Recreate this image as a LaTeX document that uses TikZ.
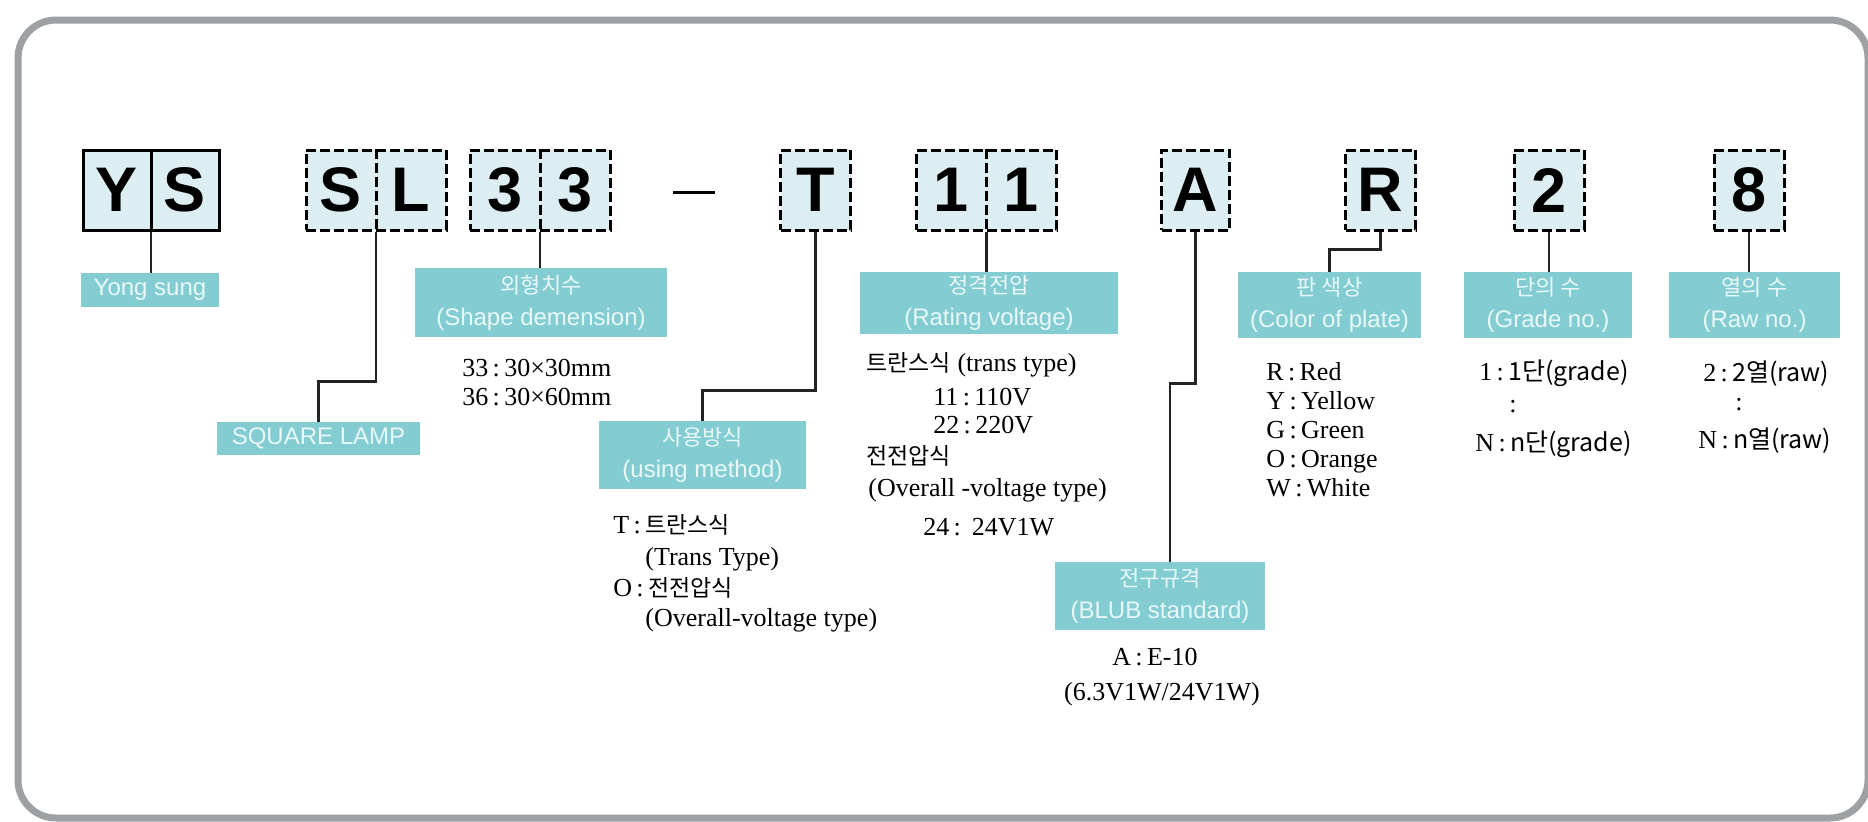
\documentclass[tikz,border=0pt]{standalone}
\usepackage{fontspec}
\setmainfont{Liberation Serif}
\newfontfamily\lsans{Liberation Sans}
\newfontfamily\kr{Noto Sans CJK KR}
\newcommand\krs{\kr\fontsize{11.5}{11.5}\selectfont}
\newcommand\krl{\kr\fontsize{11}{11}\selectfont}
\newcommand\krg{\kr\fontsize{12.5}{12.5}\selectfont}
\definecolor{cellfill}{RGB}{221,238,242}
\definecolor{labfill}{RGB}{131,205,210}
\definecolor{labtext}{RGB}{232,247,248}
\definecolor{framegray}{RGB}{158,161,164}
\definecolor{wirecol}{RGB}{35,35,35}
\begin{document}
\begin{tikzpicture}[x=0.5pt,y=-0.5pt,
  big/.style={font=\lsans\bfseries\fontsize{31.5}{31.5}\selectfont, inner sep=0pt},
  box/.style={draw=black, line width=1.5pt, fill=cellfill, minimum height=40pt, inner sep=0pt, big},
  dbox/.style={box, dash pattern=on 5pt off 2pt},
  one/.style={minimum width=35pt},
  two/.style={minimum width=70pt},
  divline/.style={line width=1.5pt, dash pattern=on 5pt off 2pt},
  lab/.style={fill=labfill, inner sep=0pt, text=labtext, align=center, font=\lsans\fontsize{12}{16}\selectfont},
  wire/.style={draw=wirecol, line width=1.25pt},
  txt/.style={anchor=base west, inner sep=0pt, font=\fontsize{13}{13}\selectfont},
  ctxt/.style={anchor=base, inner sep=0pt, font=\fontsize{13}{13}\selectfont},
]
\useasboundingbox (0,0) rectangle (1868,821);
\fill[white] (0,0) rectangle (1868,821);
\draw[framegray, line width=3.5pt, rounded corners=19pt] (18,20) rectangle (1868,818);

% code boxes
\node[box, minimum width=68pt] (YS) at (151,190) {};
\node[big] at ([xshift=-17pt]YS.center) {Y};
\node[big] at ([xshift=17pt]YS.center) {S};
\draw[line width=1.5pt] (YS.north) -- (YS.south);

\node[dbox, two] (SL) at (376,190) {};
\node[big] at ([xshift=-17.5pt]SL.center) {S};
\node[big] at ([xshift=17.5pt]SL.center) {L};
\draw[divline] (SL.north) -- (SL.south);

\node[dbox, two] (D33) at (540,190) {};
\node[big] at ([xshift=-17.5pt]D33.center) {3};
\node[big] at ([xshift=17.5pt]D33.center) {3};
\draw[divline] (D33.north) -- (D33.south);

\node[inner sep=0pt] (dash) at (694,192) {\rule{21pt}{1.5pt}};

\node[dbox, one] (T) at (815.5,190) {T};

\node[dbox, two] (D11) at (986.5,190) {};
\node[big] at ([xshift=-17.5pt]D11.center) {1};
\node[big] at ([xshift=17.5pt]D11.center) {1};
\draw[divline] (D11.north) -- (D11.south);

\node[dbox, one, minimum width=34pt] (A) at (1195.5,190) {A};
\node[dbox, one] (R) at (1380.5,190) {R};
\node[dbox, one] (N2) at (1549,190) {2};
\node[dbox, one] (N8) at (1749,190) {8};

% labels
\node[lab, minimum width=69pt, minimum height=17pt] (ysl) at (150,290) {Yong sung};
\node[lab, minimum width=126pt, minimum height=34.5pt] (shape) at (541,302.5) {{\krl 외형치수}\\(Shape demension)};
\node[lab, minimum width=101.5pt, minimum height=16.5pt] (sq) at (318.5,438.5) {SQUARE LAMP};
\node[lab, minimum width=103.5pt, minimum height=34pt] (use) at (702.5,455) {{\krl 사용방식}\\(using method)};
\node[lab, minimum width=129pt, minimum height=31pt] (rate) at (989,303) {{\krl 정격전압}\\(Rating voltage)};
\node[lab, minimum width=105pt, minimum height=34pt] (bulb) at (1160,596) {{\krl 전구규격}\\(BLUB standard)};
\node[lab, minimum width=91.5pt, minimum height=33pt] (color) at (1329.5,305) {{\krl 판 색상}\\(Color of plate)};
\node[lab, minimum width=84pt, minimum height=33pt] (grade) at (1548,305) {{\krl 단의 수}\\(Grade no.)};
\node[lab, minimum width=85.5pt, minimum height=33pt] (raw) at (1754.5,305) {{\krl 열의 수}\\(Raw no.)};

% connectors
\draw[wire] (YS.south) -- (YS.south |- ysl.north);
\draw[wire] (SL.south) -- ++(0,150) -| (sq.north);
\draw[wire] (D33.south) -- (D33.south |- shape.north);
\draw[wire] (T.south) -- ++(0,159) -| (use.north);
\draw[wire] (D11.south) -- (D11.south |- rate.north);
\draw[wire] (A.south) -- ++(0,152) -| ([xshift=5pt]bulb.north);
\draw[wire] (R.south) -- ++(0,18) -| (color.north);
\draw[wire] (N2.south) -- (N2.south |- grade.north);
\draw[wire] (N8.south) -- (N8.south |- raw.north);

% texts under shape
\node[txt] (s1) at (462,376) {33\,:\,30×30mm};
\node[txt] (s2) at (462,405) {36\,:\,30×60mm};

% texts under using method
\node[txt] (u1) at (613,533) {T\,:\,{\krs 트란스식}};
\node[txt] (u2) at (645,565) {(Trans Type)};
\node[txt] (u3) at (613,596) {O\,:\,{\krs 전전압식}};
\node[txt] (u4) at (645,626) {(Overall-voltage type)};

% texts under rating
\node[txt] (r1) at (866,371) {{\krs 트란스식} (trans type)};
\node[txt] (r2) at (933,405) {11\,:\,110V};
\node[txt] (r3) at (933,433) {22\,:\,220V};
\node[txt] (r4) at (866,464) {{\krs 전전압식}};
\node[txt] (r5) at (868,496) {(Overall -voltage type)};
\node[txt] (r6) at (923,535) {24\,:\ \,24V1W};

% bulb
\node[ctxt] (b1) at (1155,665) {A\,:\,E-10};
\node[ctxt] (b2) at (1162,700) {(6.3V1W/24V1W)};

% color
\node[txt] (c1) at (1266,380) {R\,:\,Red};
\node[txt] (c2) at (1266,409) {Y\,:\,Yellow};
\node[txt] (c3) at (1266,438) {G\,:\,Green};
\node[txt] (c4) at (1266,467) {O\,:\,Orange};
\node[txt] (c5) at (1266,496) {W\,:\,White};

% grade
\node[txt] (g1) at (1479,380) {1\,:\,{\krg 1단(grade)}};
\node[txt] (g2) at (1509,412) {:};
\node[txt] (g3) at (1475,451) {N\,:\,{\krg n단(grade)}};

% raw
\node[txt] (w1) at (1703,381) {2\,:\,{\krg 2열(raw)}};
\node[txt] (w2) at (1735,410) {:};
\node[txt] (w3) at (1698,448) {N\,:\,{\krg n열(raw)}};
\end{tikzpicture}
\end{document}
